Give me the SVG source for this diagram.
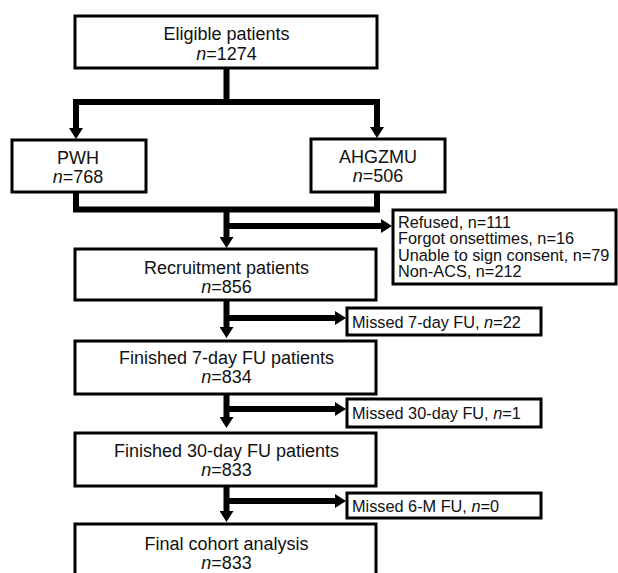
<svg xmlns="http://www.w3.org/2000/svg" width="618" height="573" viewBox="0 0 618 573">
<defs>
<style>
.box{fill:#fff;stroke:#000;stroke-width:3}
.t{font-family:"Liberation Sans",Arial,sans-serif;font-size:18px;fill:#111;text-anchor:middle}
.s{font-family:"Liberation Sans",Arial,sans-serif;font-size:16.3px;fill:#111}
.c{fill:none;stroke:#000;stroke-width:6;stroke-linejoin:miter}
.i{font-style:italic}
</style>
<marker id="ah" markerUnits="userSpaceOnUse" markerWidth="11" markerHeight="14" viewBox="0 0 11 14" refX="1" refY="7" orient="auto">
<path d="M0,0 L11,7 L0,14 z" fill="#000"/>
</marker>
</defs>
<rect width="618" height="573" fill="#fff"/>
<g id="connectors">
<path class="c" d="M226.5,68 V102"/>
<path class="c" d="M76,128 V102 H377 V128"/>
<path class="c" d="M76,120 V129" marker-end="url(#ah)"/>
<path class="c" d="M377,120 V128" marker-end="url(#ah)"/>
<path class="c" d="M76,192 V209.5 H377 V192"/>
<path class="c" d="M226.5,209.5 V238" marker-end="url(#ah)"/>
<path class="c" d="M226.5,226 H382" marker-end="url(#ah)"/>
<path class="c" d="M226.5,300 V328" marker-end="url(#ah)"/>
<path class="c" d="M226.5,318 H336" marker-end="url(#ah)"/>
<path class="c" d="M226.5,394 V418" marker-end="url(#ah)"/>
<path class="c" d="M226.5,409 H336" marker-end="url(#ah)"/>
<path class="c" d="M226.5,486 V512" marker-end="url(#ah)"/>
<path class="c" d="M226.5,501 H336" marker-end="url(#ah)"/>
</g>
<g id="eligible">
<rect class="box" x="75" y="16" width="302" height="52"/>
<text class="t" x="226.5" y="39.5">Eligible patients</text>
<text class="t" x="226.5" y="59.5"><tspan class="i">n</tspan>=1274</text>
</g>
<g id="pwh">
<rect class="box" x="12" y="140" width="134" height="52"/>
<text class="t" x="78" y="163.5">PWH</text>
<text class="t" x="78" y="182.5"><tspan class="i">n</tspan>=768</text>
</g>
<g id="ahgzmu">
<rect class="box" x="311" y="139" width="134" height="53"/>
<text class="t" x="378" y="162.5">AHGZMU</text>
<text class="t" x="378" y="181.5"><tspan class="i">n</tspan>=506</text>
</g>
<g id="excluded">
<rect class="box" x="393" y="210" width="223" height="74"/>
<text class="s" x="398" y="227.5">Refused, n=111</text>
<text class="s" x="398" y="244">Forgot onsettimes, n=16</text>
<text class="s" x="398" y="260.5">Unable to sign consent, n=79</text>
<text class="s" x="398" y="277">Non-ACS, n=212</text>
</g>
<g id="recruitment">
<rect class="box" x="75" y="249" width="301" height="51"/>
<text class="t" x="226.5" y="273.5">Recruitment patients</text>
<text class="t" x="226.5" y="292.5"><tspan class="i">n</tspan>=856</text>
</g>
<g id="missed7">
<rect class="box" x="347" y="308" width="194" height="27"/>
<text class="s" x="352" y="327.8">Missed 7-day FU, <tspan class="i">n</tspan>=22</text>
</g>
<g id="finished7">
<rect class="box" x="75" y="341" width="301" height="53"/>
<text class="t" x="226.5" y="364">Finished 7-day FU patients</text>
<text class="t" x="226.5" y="383"><tspan class="i">n</tspan>=834</text>
</g>
<g id="missed30">
<rect class="box" x="347" y="399" width="194" height="28"/>
<text class="s" x="352" y="418.8">Missed 30-day FU, <tspan class="i">n</tspan>=1</text>
</g>
<g id="finished30">
<rect class="box" x="75" y="433" width="301" height="53"/>
<text class="t" x="226.5" y="456.5">Finished 30-day FU patients</text>
<text class="t" x="226.5" y="475.5"><tspan class="i">n</tspan>=833</text>
</g>
<g id="missed6m">
<rect class="box" x="347" y="493" width="194" height="25"/>
<text class="s" x="352" y="511.8">Missed 6-M FU, <tspan class="i">n</tspan>=0</text>
</g>
<g id="final">
<rect class="box" x="75" y="524" width="301" height="60"/>
<text class="t" x="226.5" y="549.5">Final cohort analysis</text>
<text class="t" x="226.5" y="568.5"><tspan class="i">n</tspan>=833</text>
</g>
</svg>
